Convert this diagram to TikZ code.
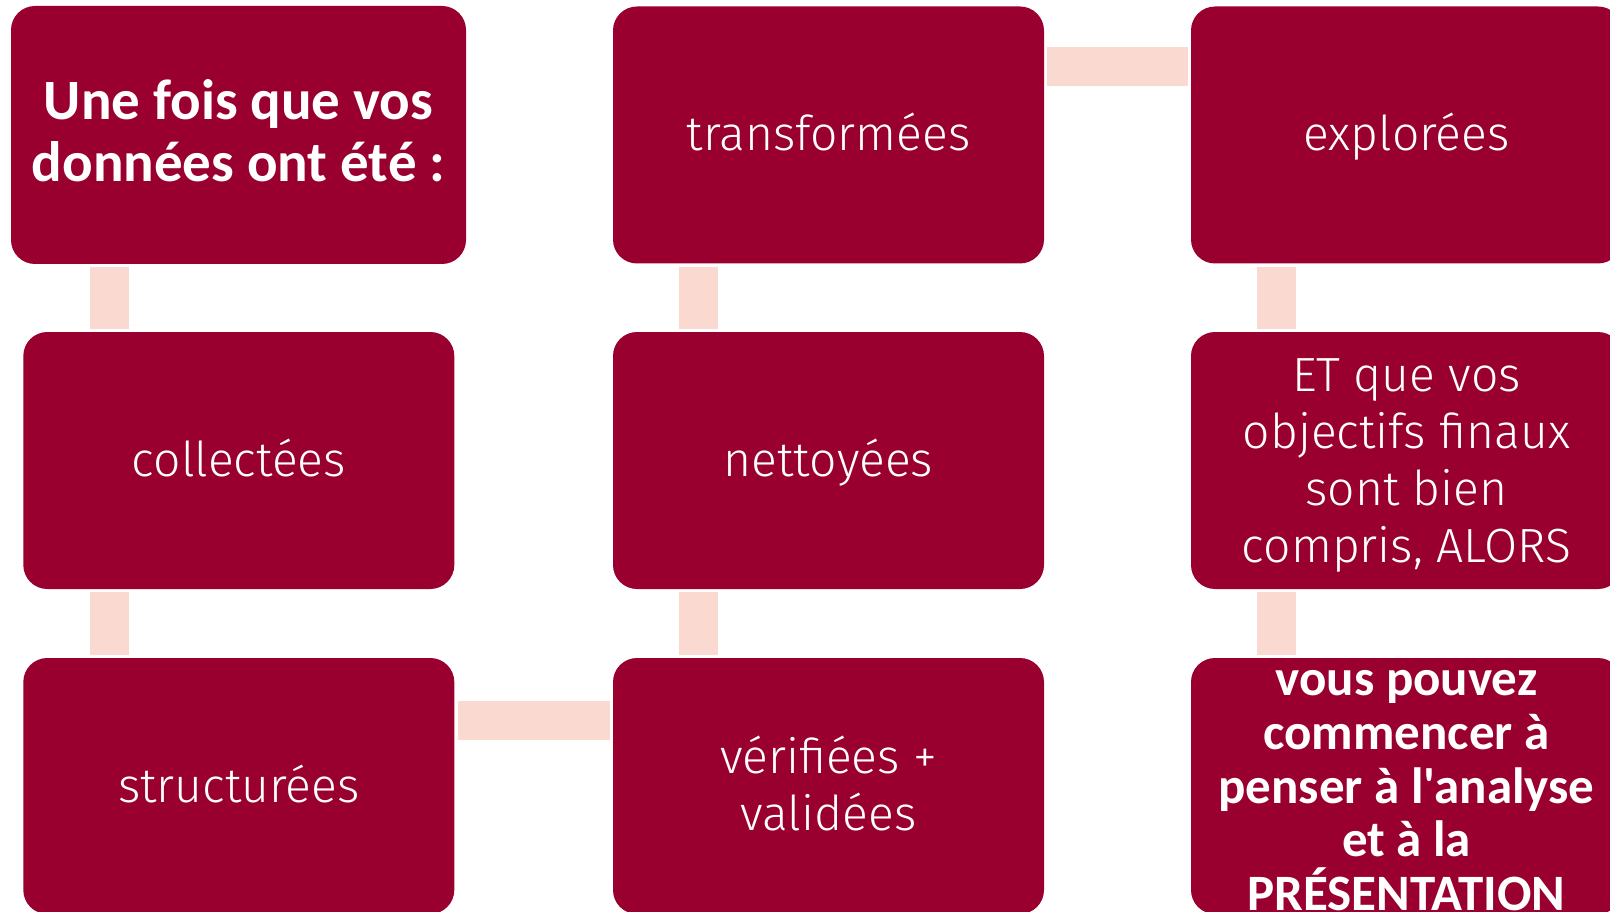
\documentclass[tikz,border=0pt]{standalone}
\usepackage{fontspec}
\IfFontExistsTF{Fira Sans Light}{\newfontfamily\lightf{Fira Sans Light}}{\IfFontExistsTF{Lato Light}{\newfontfamily\lightf{Lato Light}}{\newfontfamily\lightf{Open Sans}}}
\newfontfamily\boldf{Carlito}
\definecolor{boxred}{HTML}{990030}
\definecolor{connpink}{HTML}{FAD9D1}
\newcommand\lst{\rule[-10pt]{0pt}{52pt}}
\newcommand\bst{\rule[-12pt]{0pt}{56pt}}
\newcommand\vst{\rule[-10pt]{0pt}{44pt}}
\begin{document}
\begin{tikzpicture}[x=1pt,y=-1pt,
  stepbox/.style={fill=boxred, rounded corners=24pt, inner sep=0pt,
    minimum width=431pt, minimum height=257pt, text=white, align=center,
    font=\lightf\fontsize{48pt}{57pt}\selectfont},
  boldtxt/.style={text=white, align=center, inner sep=0pt},
  conn/.style={draw=connpink, line width=39pt, shorten <=3pt, shorten >=3pt}]
\useasboundingbox (0,0) rectangle (1610,912);
\node[stepbox, minimum width=455pt, minimum height=258pt,
  font=\boldf\bfseries\fontsize{57pt}{62pt}\selectfont] (b1) at (238.5,135)
  {\bst Une fois que vos\\données ont été :\bst};
\node[stepbox] (col) at (238.8,460.5) {\lst collectées};
\node[stepbox, minimum height=256pt] (str) at (238.8,786) {\lst structurées};
\node[stepbox] (tra) at (828.5,135) {\lst transformées};
\node[stepbox] (net) at (828.5,460.5) {\lst nettoyées};
\node[stepbox, minimum height=256pt] (ver) at (828.5,786) {\lst vérifiées +\\validées\lst};
\node[stepbox] (exp) at (1406.5,135) {\lst explorées};
\node[stepbox] (et) at (1406.5,460.5) {\lst ET que vos\\objectifs finaux\\sont bien\\compris, ALORS\lst};
\node[stepbox, minimum height=256pt] (vous) at (1406.5,786) {};
\node[boldtxt, font=\boldf\bfseries\fontsize{51pt}{53.8pt}\selectfont] (voust) at ([yshift=-5pt]vous.center)
  {\vst vous pouvez\\commencer à\\penser à l'analyse\\et à la\\PRÉSENTATION\vst};
\coordinate (c1) at ([xshift=86pt]col.north west);
\draw[conn] (b1.south -| c1) -- (c1);
\coordinate (c2) at ([xshift=86pt]str.north west);
\draw[conn] (col.south -| c2) -- (c2);
\coordinate (c3) at ([yshift=66pt]str.east);
\draw[conn] (c3) -- (c3 -| ver.west);
\coordinate (c4) at ([xshift=86pt]ver.north west);
\draw[conn] (net.south -| c4) -- (c4);
\coordinate (c5) at ([xshift=86pt]net.north west);
\draw[conn] (tra.south -| c5) -- (c5);
\coordinate (c6) at ([yshift=68pt]tra.east);
\draw[conn] (c6) -- (c6 -| exp.west);
\coordinate (c7) at ([xshift=86pt]et.north west);
\draw[conn] (exp.south -| c7) -- (c7);
\coordinate (c8) at ([xshift=86pt]vous.north west);
\draw[conn] (et.south -| c8) -- (c8);
\end{tikzpicture}
\end{document}
